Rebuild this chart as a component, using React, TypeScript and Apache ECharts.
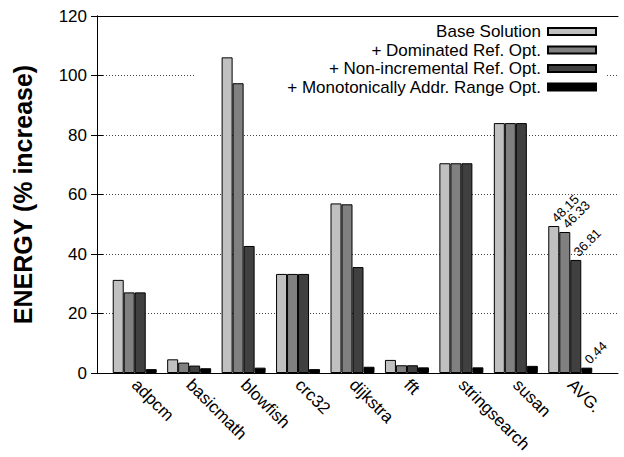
import React, { useEffect, useRef } from "react";
import * as echarts from "echarts";

const categories = ["adpcm", "basicmath", "blowfish", "crc32", "dijkstra", "fft", "stringsearch", "susan", "AVG."];
const seriesNames = [
  "Base Solution",
  "+ Dominated Ref. Opt.",
  "+ Non-incremental Ref. Opt.",
  "+ Monotonically Addr. Range Opt.",
];
const baseValues = [31.3, 4.6, 106.1, 33.3, 57.0, 4.4, 70.5, 84.0, 49.4];
const dominatedValues = [27.1, 3.5, 97.4, 33.3, 56.7, 2.6, 70.5, 84.0, 47.4];
const nonIncrementalValues = [27.1, 2.5, 42.7, 33.3, 35.6, 2.6, 70.5, 84.0, 38.0];
const monotonicValues = [1.3, 1.6, 1.8, 1.3, 2.1, 1.9, 1.9, 2.4, 1.8];
const avgLabels = ["48.15", "46.33", "36.81", "0.44"];
const colors = ["#c0c0c0", "#808080", "#404040", "#000000"];
const yTicks = { min: 0, max: 120, interval: 20 };

const FONT = "'Liberation Sans', Arial, Helvetica, sans-serif";

export default function App() {
  const ref = useRef<HTMLDivElement>(null);
  useEffect(() => {
    document.body.style.margin = "0";
    if (!ref.current) return;
    const chart = echarts.init(ref.current, undefined, { renderer: "svg" });
    const allValues = [baseValues, dominatedValues, nonIncrementalValues, monotonicValues];
    const gridBox = { top: 16, bottom: 84 };
    const option: any = {
      animation: false,
      backgroundColor: "#fff",
      textStyle: { fontFamily: FONT },
      grid: [
        { left: 97, right: 6, ...gridBox },
        { left: 107.5, right: 26.5, ...gridBox },
      ],
      graphic: [
        {
          type: "rect",
          z: 1,
          shape: { x: 194, y: 19, width: 411, height: 72 },
          style: { fill: "#fff" },
        },
      ],
      legend: {
        data: seriesNames,
        orient: "vertical",
        right: 27,
        top: 23,
        padding: 0,
        itemGap: 1.5,
        align: "right",
        icon: "rect",
        itemWidth: 48,
        itemHeight: 7,
        textStyle: { fontSize: 17, color: "#000", fontFamily: FONT, lineHeight: 15.5, padding: [0, 2, 0, 0] },
      },
      xAxis: [
        {
          type: "value",
          gridIndex: 0,
          min: 0,
          max: 1,
          position: "bottom",
          axisLine: { show: true, onZero: false, lineStyle: { color: "#000", width: 1 } },
          axisTick: { show: false },
          axisLabel: { show: false },
          splitLine: { show: false },
        },
        {
          type: "value",
          gridIndex: 0,
          min: 0,
          max: 1,
          position: "top",
          axisLine: { show: true, onZero: false, lineStyle: { color: "#000", width: 1 } },
          axisTick: { show: false },
          axisLabel: { show: false },
          splitLine: { show: false },
        },
        {
          type: "category",
          gridIndex: 1,
          data: categories,
          axisLine: { show: false },
          axisTick: { show: false },
          axisLabel: {
            rotate: -45,
            margin: 9,
            fontSize: 17,
            color: "#000",
            fontFamily: FONT,
            interval: 0,
          },
        },
      ],
      yAxis: [
        {
          type: "value",
          gridIndex: 0,
          ...yTicks,
          position: "left",
          name: "ENERGY (% increase)",
          nameLocation: "middle",
          nameGap: 62,
          nameTextStyle: { fontSize: 25, fontWeight: "bold", color: "#000", fontFamily: FONT },
          axisLine: { show: true, lineStyle: { color: "#000", width: 1 } },
          axisTick: { show: true, inside: true, length: 6, lineStyle: { color: "#000" } },
          axisLabel: { fontSize: 17, color: "#000", margin: 10, fontFamily: FONT },
          splitLine: { show: true, lineStyle: { color: "#444", type: [1, 2], width: 1 } },
        },
        {
          type: "value",
          gridIndex: 0,
          ...yTicks,
          position: "right",
          axisLine: { show: true, lineStyle: { color: "#000", width: 1 } },
          axisTick: { show: true, inside: true, length: 6, lineStyle: { color: "#000" } },
          axisLabel: { show: false },
          splitLine: { show: false },
        },
        {
          type: "value",
          gridIndex: 1,
          ...yTicks,
          show: false,
        },
      ],
      series: seriesNames.map((name, s) => ({
        name,
        type: "bar",
        xAxisIndex: 2,
        yAxisIndex: 2,
        barWidth: 11,
        barGap: "0%",
        itemStyle: { color: colors[s], borderColor: "#000", borderWidth: 1 },
        data: allValues[s].map((v, i) =>
          i === categories.length - 1
            ? {
                value: v,
                label: {
                  show: true,
                  position: "top",
                  rotate: 45,
                  align: "left",
                  verticalAlign: "middle",
                  distance: 6,
                  formatter: avgLabels[s],
                  fontSize: 13,
                  color: "#000",
                  fontFamily: FONT,
                },
              }
            : v
        ),
      })),
    };
    chart.setOption(option);
    return () => chart.dispose();
  }, []);
  return <div ref={ref} style={{ width: 624, height: 457 }} />;
}
